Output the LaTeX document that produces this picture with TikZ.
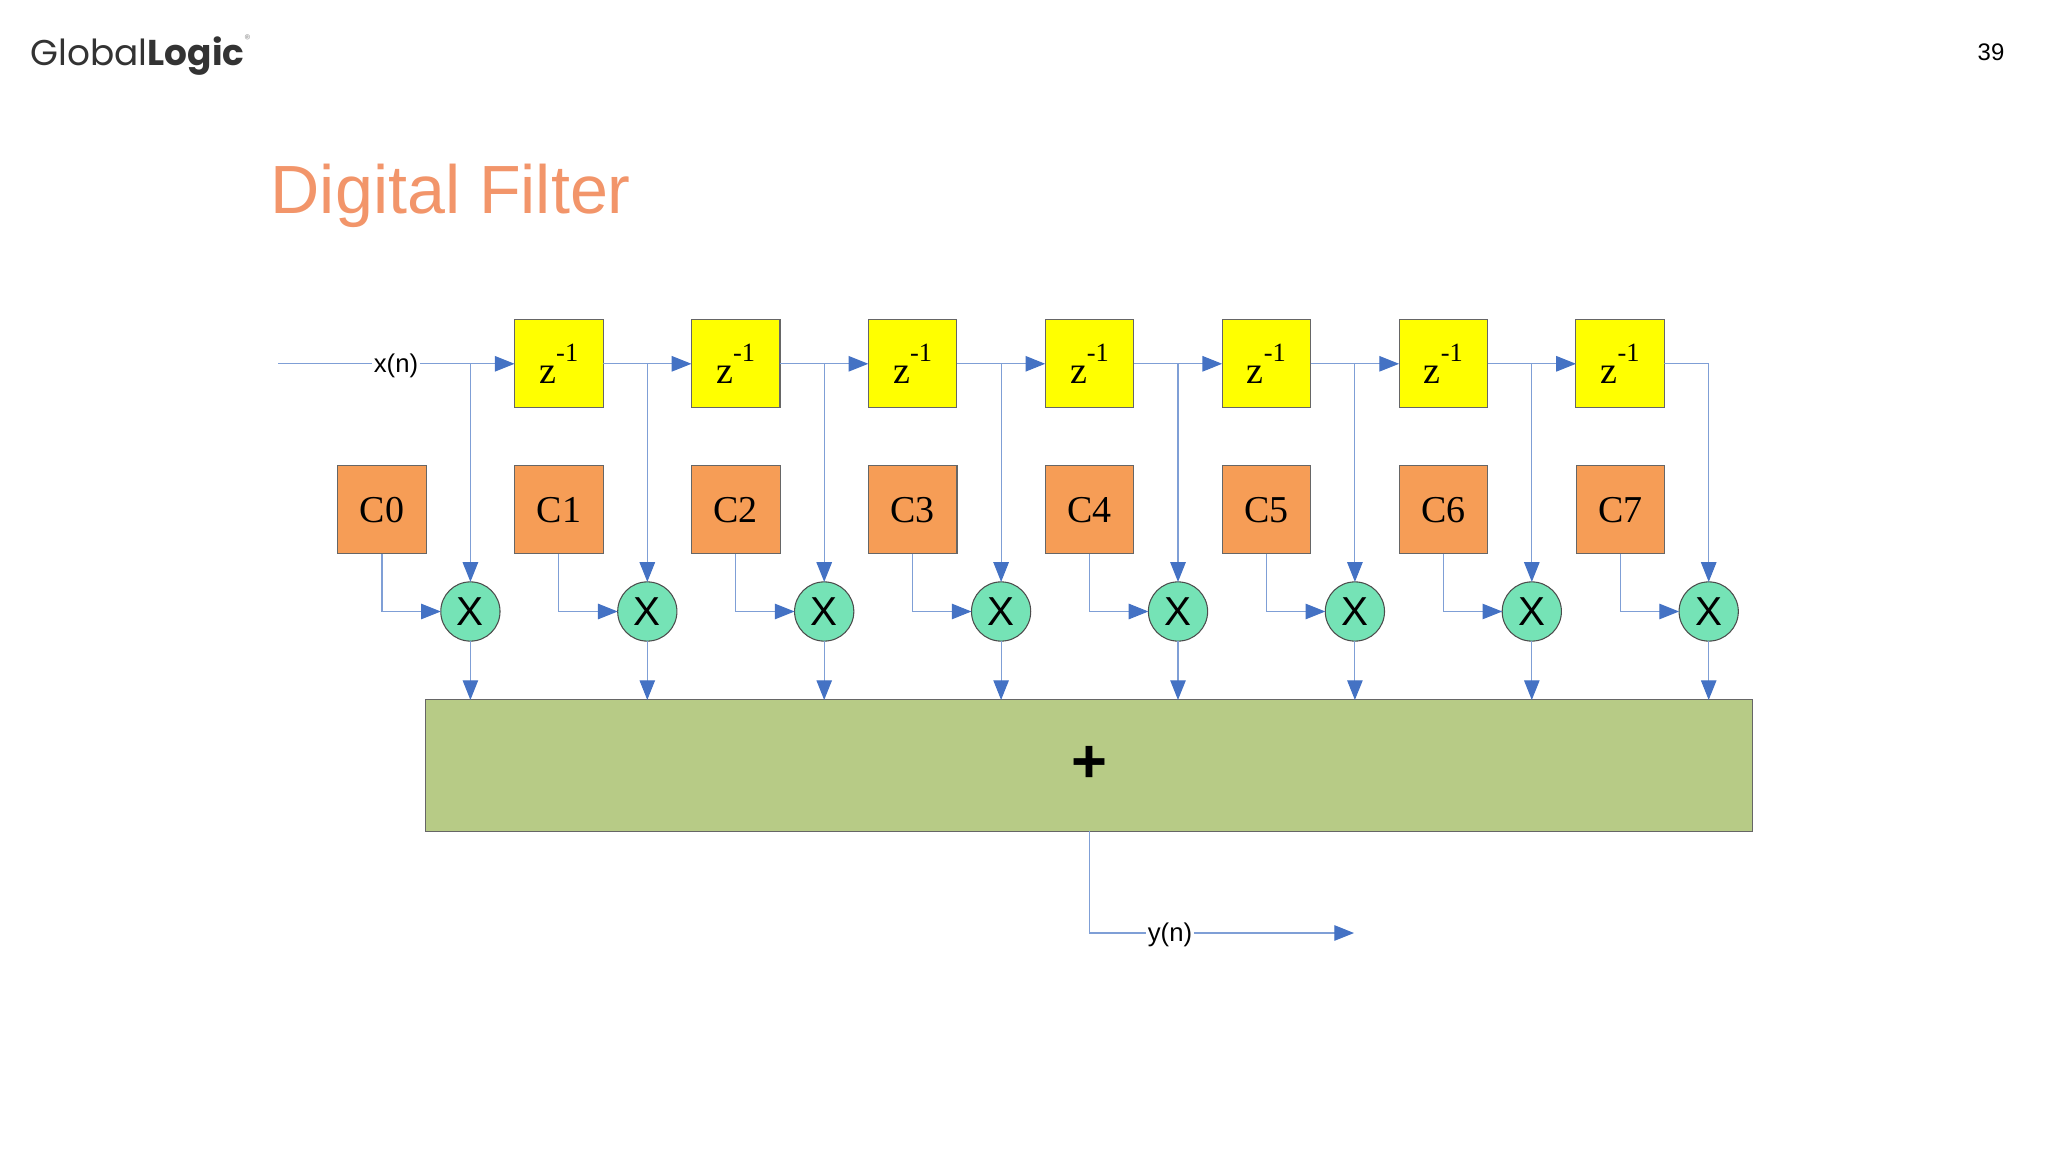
\documentclass[tikz,border=0pt]{standalone}
\usepackage{fontspec}
\setmainfont{Liberation Sans}
\newfontfamily\serifface{Liberation Serif}
\newfontfamily\logoface{Poppins}
\usetikzlibrary{calc,positioning,arrows.meta}
\definecolor{wireblue}{HTML}{7F9FD6}
\definecolor{tipblue}{HTML}{4472C4}
\definecolor{delayyellow}{HTML}{FFFF00}
\definecolor{coefforange}{HTML}{F69D56}
\definecolor{mulgreen}{HTML}{75E3B6}
\definecolor{sumgreen}{HTML}{B7CB86}
\definecolor{titleorange}{HTML}{F2956A}
\tikzset{
  wire/.style={draw=wireblue,line width=0.32pt},
  feed/.style={wire,-{Triangle[length=5.6pt,width=4.4pt,color=tipblue]}},
  delaybox/.style={draw=black!60,line width=0.3pt,fill=delayyellow,minimum width=0.885cm,minimum height=0.877cm,inner sep=0,outer sep=0,font=\serifface\fontsize{10.8}{13}\selectfont},
  coeffbox/.style={delaybox,fill=coefforange},
  mulnode/.style={circle,draw=black!70,line width=0.3pt,fill=mulgreen,minimum size=0.592cm,inner sep=0,outer sep=0,font=\fontsize{11.5}{13}\selectfont},
  signame/.style={inner sep=0.5pt,outer sep=0,text height=6.5pt,text depth=1.5pt,font=\fontsize{7.3}{9}\selectfont}
}
\begin{document}
\begin{tikzpicture}[x=0.01cm,y=-0.01cm]
\useasboundingbox (0,0) rectangle (2048,1152);
% header
\node[inner sep=0,anchor=west] (logo) at (30,55) {\logoface\fontsize{10.2}{12}\selectfont\color{black!80}Global\textbf{Logic}\raisebox{1.1ex}{\color{black!40}\fontsize{3.5}{4}\selectfont ®}};
\node[inner sep=0] (page) at (1991,52) {\fontsize{6.8}{8}\selectfont 39};
\node[inner sep=0,anchor=west,text=titleorange] (title) at (270,196) {\fontsize{19.4}{24}\selectfont Digital Filter};
% blocks
\foreach \i in {0,...,6}
  \node[delaybox] (z\i) at (558.8+176.9*\i,363.8) {z\raisebox{1.3ex}{\fontsize{7.5}{9}\selectfont -1}};
\foreach \i in {0,...,7} {
  \node[coeffbox] (c\i) at (382+176.9*\i,509.7) {C\i};
  \node[mulnode] (m\i) at (470.4+176.9*\i,611.5) {X};
}
% adder
\node[draw=black!60,line width=0.3pt,fill=sumgreen,inner sep=0,outer sep=0,minimum width=13.26cm,minimum height=1.31cm] (sum) at (1089.3,765.5) {};
\node[inner sep=0] (plus) at (1089.3,764) {\fontsize{17.5}{20}\selectfont\textbf{+}};
% input
\coordinate (in) at (278,363.8);
\node[signame] (xn) at (396,363.8) {x(n)};
\draw[wire] (in) -- (xn);
\draw[feed] (xn) -- (z0);
% chain
\foreach \i [evaluate=\i as \j using int(\i+1)] in {0,...,5}
  \draw[feed] (z\i) -- (z\j);
\draw[feed] (z6.east) -| (m7.north);
\foreach \i [evaluate=\i as \j using int(\i-1)] in {1,...,6}
  \draw[feed] (m\i |- z\j.east) -- (m\i.north);
\draw[feed] (m0 |- xn.east) -- (m0.north);
% products
\foreach \i in {0,...,7} {
  \draw[feed] (c\i.south) |- (m\i.west);
  \draw[feed] (m\i.south) -- (m\i |- sum.north);
}
% output
\coordinate (out) at (1354,933);
\node[signame] (yn) at (1170,933) {y(n)};
\draw[wire] (sum.south) |- (yn.west);
\draw[feed] (yn) -- (out);
\end{tikzpicture}
\end{document}
